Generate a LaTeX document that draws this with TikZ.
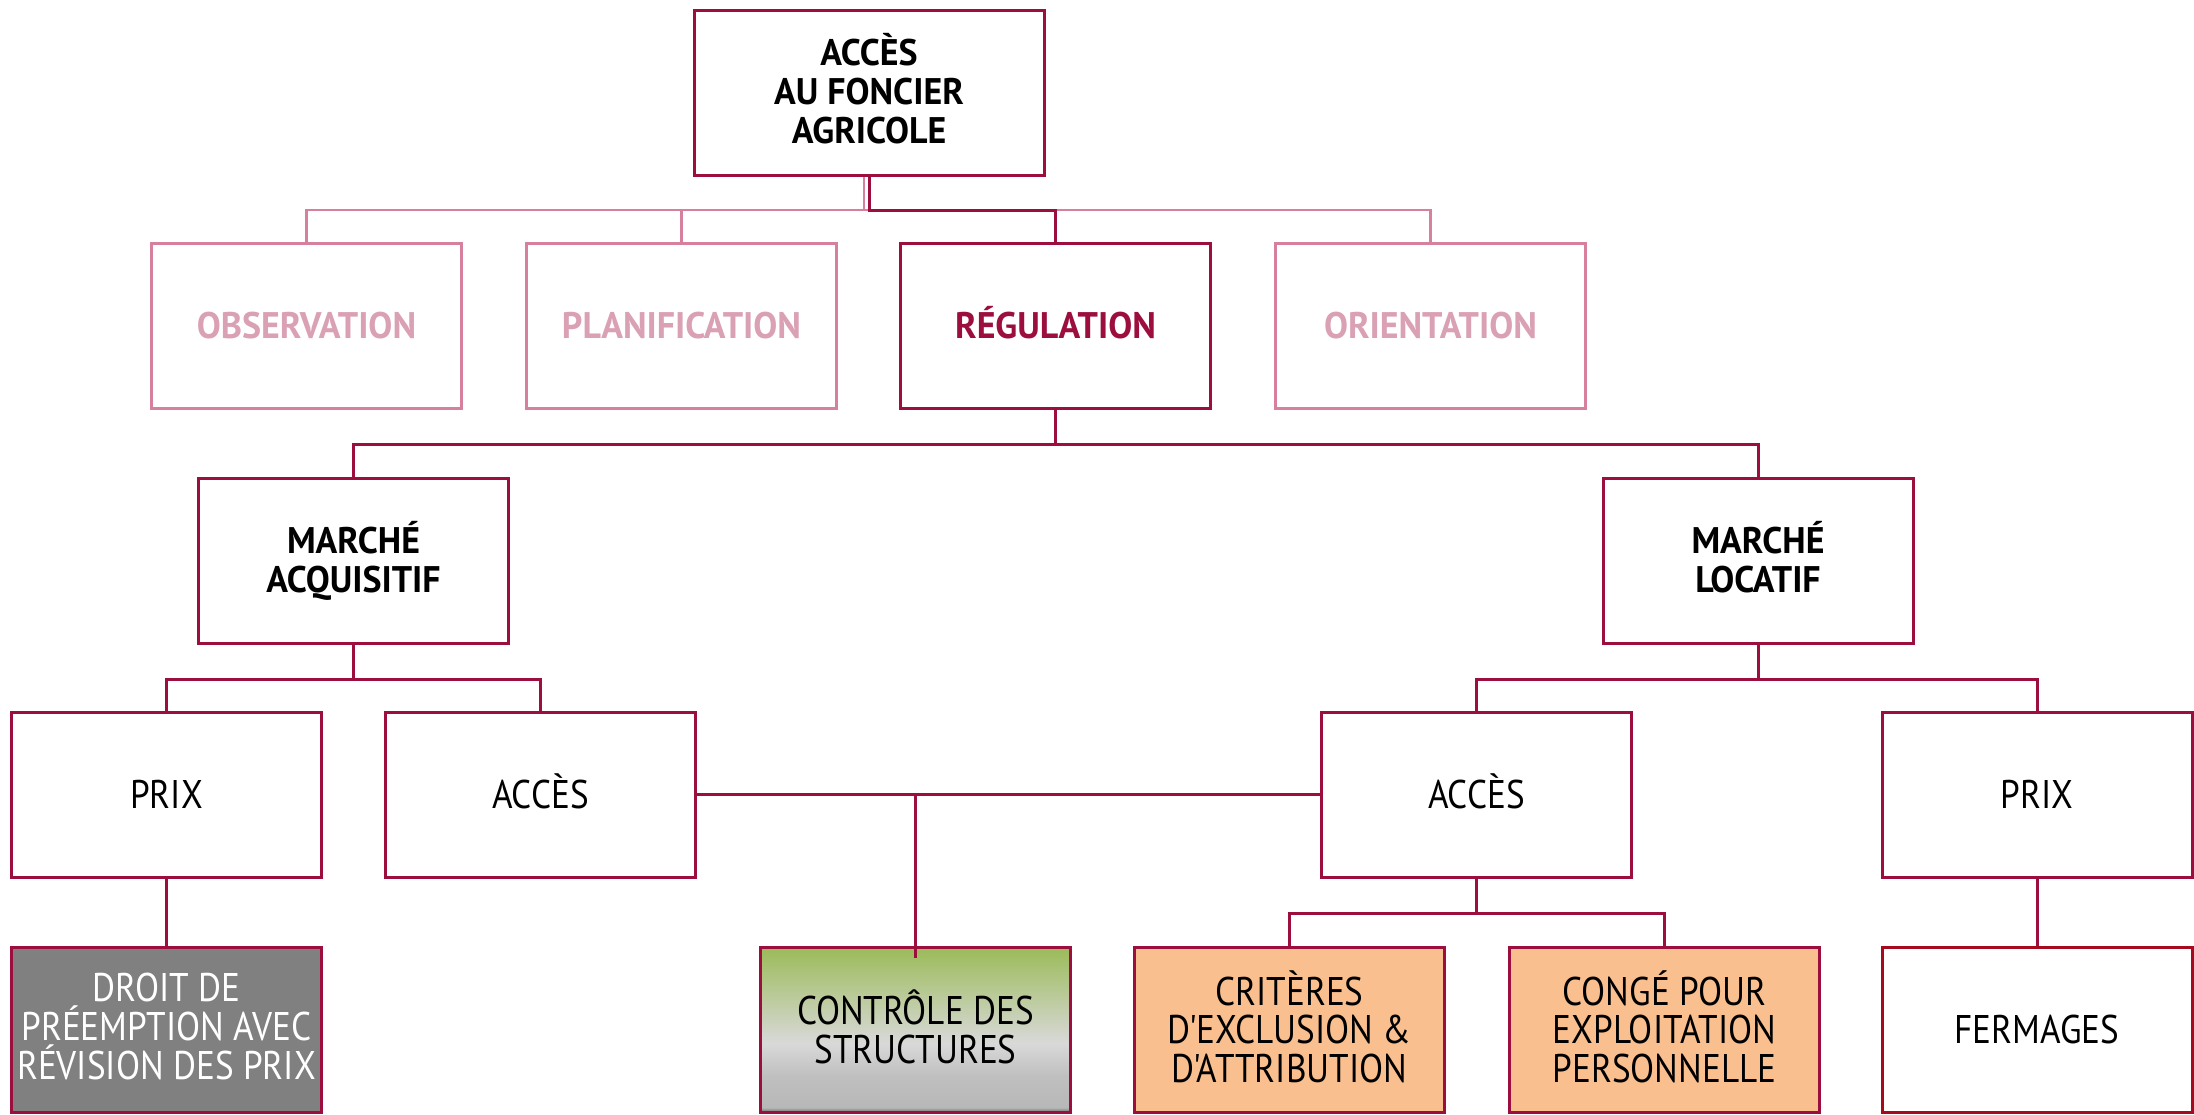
\documentclass[tikz,border=0pt]{standalone}
\usepackage{fontspec}
\setmainfont{PT Sans}
\newfontfamily\hfont[FakeStretch=0.97]{PT Sans}
\newfontfamily\rfont[FakeStretch=0.88]{PT Sans}
\definecolor{crim}{RGB}{155,14,62}
\definecolor{pinkb}{RGB}{214,128,157}
\definecolor{pinkt}{RGB}{218,160,180}
\definecolor{ferm}{RGB}{165,10,30}
\definecolor{peach}{RGB}{249,191,143}
\definecolor{dgray}{RGB}{128,128,128}
\pgfdeclareverticalshading{ctrlshade}{100bp}{color(0bp)=(black!60); color(25bp)=(black!60); color(26.5bp)=(black!28); color(36bp)=(black!25); color(46bp)=(black!15); color(75bp)=(rgb,255:red,155;green,187;blue,89); color(100bp)=(rgb,255:red,155;green,187;blue,89)}
\tikzset{
  box/.style={draw=crim, line width=1.5pt, minimum width=155pt, minimum height=82.5pt, inner sep=0pt, align=center, fill=white,
    execute at begin node={\vphantom{ÉQ}}, execute at end node={\vphantom{ÉQ}}},
  hdr/.style={box, font=\hfont\bfseries\fontsize{18.5}{19.6}\selectfont},
  lt/.style={hdr, draw=pinkb, text=pinkt, line width=1.2pt},
  rbox/.style={box, font=\rfont\fontsize{20}{19.3}\selectfont},
  con/.style={draw=crim, line width=1.5pt},
  lcon/.style={draw=pinkb, line width=1.2pt}
}
\begin{document}
\begin{tikzpicture}[x=0.5pt,y=-0.5pt]
\useasboundingbox (0,0) rectangle (2194,1114);
\fill[white] (0,0) rectangle (2194,1114);
% level 1
\node[hdr, minimum width=175pt] (top) at (869,92.5) {ACCÈS\\AU FONCIER\\AGRICOLE};
% level 2
\node[lt] (obs) at (306.5,326) {OBSERVATION};
\node[lt] (plan) at (681.5,326) {PLANIFICATION};
\node[hdr, text=crim] (reg) at (1055.5,326) {RÉGULATION};
\node[lt] (ori) at (1430.5,326) {ORIENTATION};
% level 3
\node[hdr] (ma) at (353.5,561) {MARCHÉ\\ACQUISITIF};
\node[hdr] (ml) at (1758,561) {MARCHÉ\\LOCATIF};
% level 4
\node[rbox] (prixa) at (166.5,794.5) {PRIX};
\node[rbox] (acca) at (540.5,794.5) {ACCÈS};
\node[rbox] (accl) at (1476.5,794.5) {ACCÈS};
\node[rbox] (prixl) at (2037,794.5) {PRIX};
% level 5
\node[rbox, fill=dgray, text=white] (droit) at (166.5,1030) {DROIT DE\\PRÉEMPTION AVEC\\RÉVISION DES PRIX};
\node[rbox, shading=ctrlshade] (ctrl) at (915.5,1030) {CONTRÔLE DES\\STRUCTURES};
\node[rbox, fill=peach] (crit) at (1289.5,1030) {CRITÈRES\\D'EXCLUSION \&\\D'ATTRIBUTION};
\node[rbox, fill=peach] (conge) at (1664.5,1030) {CONGÉ POUR\\EXPLOITATION\\PERSONNELLE};
\node[rbox, draw=ferm] (ferm) at (2037,1030) {FERMAGES};
% connectors level 1-2
\coordinate (h1) at (869,210);
\draw[lcon] (obs.north) |- (h1) -| (ori.north);
\draw[lcon] (plan.north) -- (plan.north |- h1);
\draw[lcon] ([xshift=-2.5pt]top.south) -- ([xshift=-2.5pt]h1);
\draw[con] (top.south) -- (h1) -| (reg.north);
% connectors level 2-3
\draw[con] (reg.south) -- ++(0,34.75) coordinate (h2);
\draw[con] (ma.north) |- (h2) -| (ml.north);
% connectors level 3-4
\draw[con] (ma.south) -- ++(0,34.75) coordinate (h3);
\draw[con] (prixa.north) |- (h3) -| (acca.north);
\draw[con] (ml.south) -- ++(0,34.75) coordinate (h4);
\draw[con] (accl.north) |- (h4) -| (prixl.north);
% connectors level 4-5
\draw[con] (acca.east) -- (accl.west);
\draw[con] (acca.east -| ctrl.north) -- ([yshift=-6pt]ctrl.north);
\draw[con] (prixa.south) -- (droit.north);
\draw[con] (accl.south) -- ++(0,35) coordinate (h5);
\draw[con] (crit.north) |- (h5) -| (conge.north);
\draw[con] (prixl.south) -- (ferm.north);
\end{tikzpicture}
\end{document}
